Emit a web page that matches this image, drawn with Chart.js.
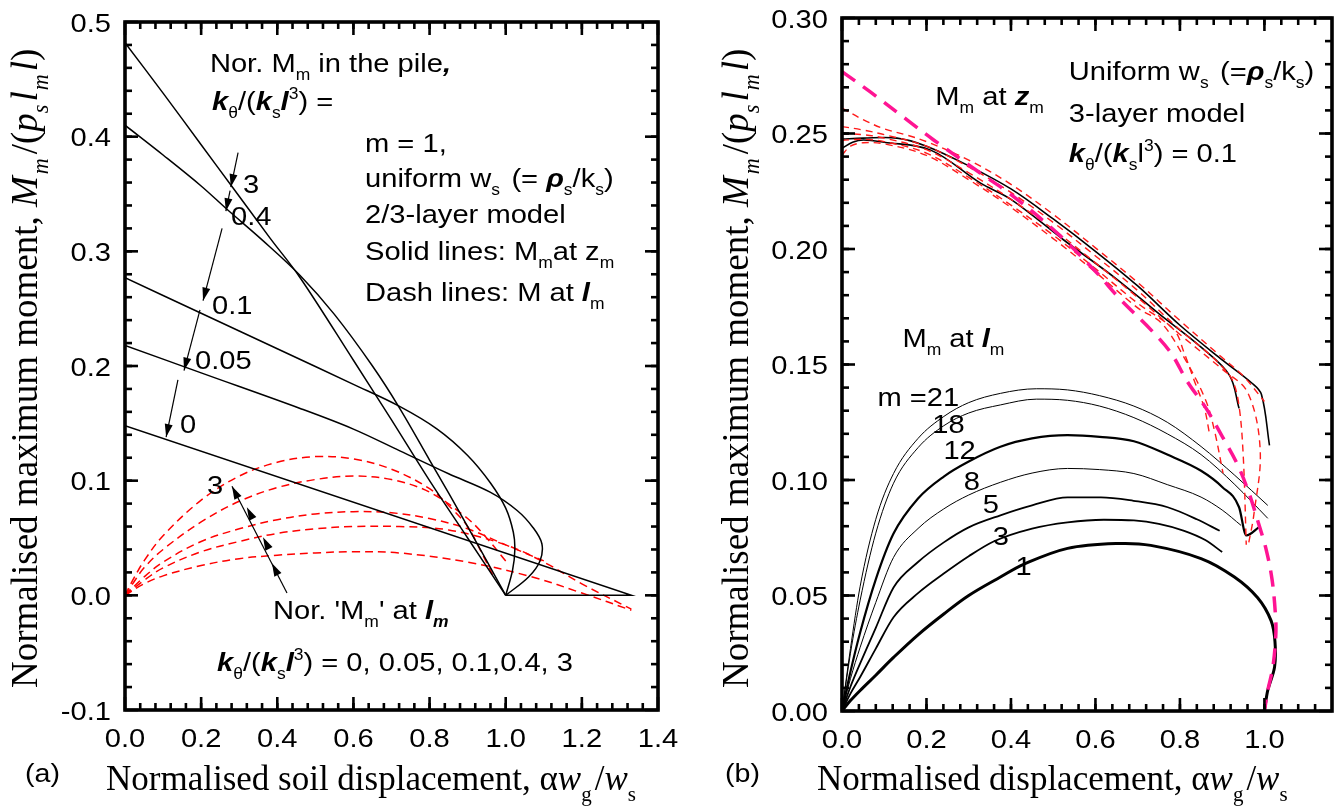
<!DOCTYPE html>
<html><head><meta charset="utf-8">
<script src="https://cdn.jsdelivr.net/npm/chart.js@4.4.1/dist/chart.umd.min.js"></script>
<style>
body{margin:0;background:#fff;width:1339px;height:812px;overflow:hidden;position:relative}
canvas{position:absolute;top:0}
</style></head><body>
<canvas id="ca" width="690" height="812" style="left:0"></canvas>
<canvas id="cb" width="649" height="812" style="left:690px"></canvas>
<script>
// ---------------- DATA : panel (a) ----------------
const aXTicks = [0, 0.2, 0.4, 0.6, 0.8, 1.0, 1.2, 1.4];
const aXLabels = ['0.0','0.2','0.4','0.6','0.8','1.0','1.2','1.4'];
const aYTicks = [-0.1, 0, 0.1, 0.2, 0.3, 0.4, 0.5];
const aYLabels = ['-0.1','0.0','0.1','0.2','0.3','0.4','0.5'];
// solid: M_m at z_m, k_theta/(k_s l^3) = 3, 0.4, 0.1, 0.05, 0
const aSolidK3   = [[0,0.482],[0.1,0.438],[0.2,0.393],[0.28,0.357],[0.38,0.312],[0.46,0.277],[0.6,0.205],[0.7,0.153],[0.8,0.1],[0.9,0.05],[1.0,0]];
const aSolidK04  = [[0,0.41],[0.1,0.384],[0.2,0.357],[0.27,0.336],[0.36,0.31],[0.46,0.279],[0.55,0.245],[0.65,0.2],[0.72,0.164],[0.8,0.118],[0.9,0.06],[1.0,0]];
const aSolidK01  = [[0,0.277],[0.2,0.246],[0.4,0.215],[0.6,0.184],[0.72,0.165],[0.82,0.145],[0.9,0.122],[0.96,0.098],[1.0,0.076],[1.02,0.055],[1.024,0.04],[1.018,0.022],[1.0,0]];
const aSolidK005 = [[0,0.218],[0.2,0.194],[0.46,0.163],[0.6,0.145],[0.722,0.126],[0.85,0.106],[0.959,0.09],[1.03,0.074],[1.072,0.059],[1.095,0.045],[1.09,0.03],[1.06,0.016],[1.0,0]];
const aSolidK0   = [[0,0.148],[1.33,0],[1.0,0]];
// dashed: M at l_m
const aDashK3   = [[0,0],[0.02,0.013],[0.05,0.03],[0.1,0.052],[0.2,0.083],[0.3,0.104],[0.4,0.116],[0.5,0.121],[0.6,0.119],[0.7,0.11],[0.8,0.093],[0.86,0.075],[0.9,0.06],[0.94,0.035],[0.97,0.015]];
const aDashK04  = [[0,0],[0.02,0.01],[0.05,0.024],[0.1,0.04],[0.2,0.064],[0.3,0.082],[0.4,0.094],[0.5,0.101],[0.6,0.104],[0.7,0.101],[0.8,0.09],[0.9,0.067],[0.95,0.05],[1.0,0.03]];
const aDashK01  = [[0,0],[0.05,0.016],[0.1,0.029],[0.2,0.047],[0.3,0.058],[0.4,0.066],[0.5,0.071],[0.6,0.073],[0.7,0.072],[0.8,0.067],[0.9,0.058],[1.0,0.044],[1.1,0.03]];
const aDashK005 = [[0,0],[0.05,0.013],[0.1,0.024],[0.2,0.038],[0.3,0.047],[0.4,0.054],[0.5,0.058],[0.6,0.06],[0.72,0.06],[0.85,0.057],[1.0,0.044],[1.1,0.029],[1.2,0.01],[1.33,-0.012]];
const aDashK0   = [[0,0],[0.05,0.01],[0.1,0.017],[0.2,0.026],[0.3,0.032],[0.4,0.035],[0.5,0.037],[0.6,0.038],[0.72,0.037],[0.9,0.029],[1.07,0.016],[1.2,0.002],[1.33,-0.013]];

// ---------------- DATA : panel (b) ----------------
const bXTicks = [0, 0.2, 0.4, 0.6, 0.8, 1.0];
const bXLabels = ['0.0','0.2','0.4','0.6','0.8','1.0'];
const bYTicks = [0, 0.05, 0.1, 0.15, 0.2, 0.25, 0.3];
const bYLabels = ['0.00','0.05','0.10','0.15','0.20','0.25','0.30'];
const bM1  = [[0,0],[0.02,0.0045],[0.043,0.0089],[0.08,0.0155],[0.122,0.0232],[0.18,0.033],[0.241,0.042],[0.3,0.05],[0.375,0.058],[0.43,0.0635],[0.534,0.0704],[0.652,0.0725],[0.731,0.0717],[0.85,0.066],[0.929,0.058],[0.984,0.049],[1.016,0.039],[1.025,0.03],[1.024,0.019],[1.008,0.009],[1.0,0]];
const bM3  = [[0,0],[0.02,0.0075],[0.043,0.0147],[0.08,0.027],[0.122,0.0406],[0.18,0.051],[0.241,0.0595],[0.3,0.067],[0.36,0.0735],[0.45,0.079],[0.534,0.0817],[0.62,0.0828],[0.691,0.0825],[0.75,0.081],[0.81,0.078],[0.86,0.074],[0.9,0.0688]];
const bM5  = [[0,0],[0.02,0.0105],[0.043,0.0206],[0.08,0.036],[0.122,0.0535],[0.18,0.0645],[0.241,0.073],[0.3,0.0795],[0.375,0.0847],[0.45,0.089],[0.534,0.0925],[0.613,0.0925],[0.69,0.091],[0.771,0.0882],[0.84,0.083],[0.894,0.078]];
const bM8  = [[0,0],[0.02,0.014],[0.043,0.0276],[0.08,0.047],[0.122,0.0665],[0.18,0.079],[0.241,0.0875],[0.3,0.0935],[0.375,0.099],[0.45,0.103],[0.534,0.105],[0.61,0.1045],[0.691,0.1028],[0.77,0.098],[0.85,0.0926],[0.9,0.087],[0.945,0.0803]];
const bM12 = [[0,0],[0.02,0.017],[0.043,0.034],[0.08,0.057],[0.122,0.0768],[0.18,0.092],[0.241,0.1015],[0.3,0.108],[0.375,0.1144],[0.45,0.118],[0.534,0.1194],[0.61,0.1187],[0.691,0.1168],[0.77,0.111],[0.85,0.104],[0.9,0.097],[0.94,0.0882],[0.957,0.076],[0.988,0.0797]];
const bM18 = [[0,0],[0.02,0.025],[0.043,0.048],[0.08,0.077],[0.122,0.0986],[0.18,0.114],[0.241,0.1235],[0.3,0.129],[0.375,0.1325],[0.46,0.135],[0.534,0.1345],[0.61,0.132],[0.691,0.127],[0.77,0.12],[0.85,0.111],[0.93,0.098],[1.008,0.0834]];
const bM21 = [[0,0],[0.02,0.027],[0.043,0.054],[0.08,0.083],[0.122,0.1028],[0.18,0.118],[0.241,0.1275],[0.3,0.1335],[0.375,0.1375],[0.46,0.1395],[0.534,0.139],[0.61,0.1365],[0.691,0.132],[0.77,0.125],[0.85,0.1145],[0.93,0.102],[1.008,0.089]];
// M_m at z_m (black solid) and dashed red companions
const bZm1 = [[0,0.2476],[0.05,0.248],[0.13,0.248],[0.2,0.2445],[0.3,0.236],[0.4,0.226],[0.5,0.213],[0.6,0.199],[0.7,0.184],[0.8,0.167],[0.9,0.152],[0.97,0.142],[0.993,0.137],[1.012,0.115]];
const bZm2 = [[0,0.2436],[0.025,0.2462],[0.051,0.2472],[0.1,0.2462],[0.21,0.2428],[0.328,0.2285],[0.4,0.2215],[0.525,0.2039],[0.65,0.187],[0.75,0.172],[0.85,0.1575],[0.917,0.1454],[0.94,0.131]];
const bRed1 = [[0,0.261],[0.05,0.256],[0.1,0.252],[0.15,0.2495],[0.2,0.2465],[0.3,0.2385],[0.4,0.228],[0.5,0.215],[0.6,0.2005],[0.7,0.1855],[0.8,0.169],[0.9,0.153],[0.95,0.145],[1.0,0.134]];
const bRed2 = [[0,0.253],[0.05,0.2515],[0.1,0.2495],[0.2,0.2445],[0.3,0.2355],[0.4,0.2245],[0.5,0.2115],[0.6,0.197],[0.7,0.182],[0.8,0.165],[0.86,0.156],[0.9,0.149],[0.925,0.143],[0.94,0.132],[0.95,0.11],[0.957,0.072]];
const bRed3 = [[0,0.25],[0.05,0.2495],[0.1,0.248],[0.2,0.243],[0.3,0.233],[0.4,0.2215],[0.5,0.2085],[0.6,0.194],[0.7,0.179],[0.8,0.163],[0.9,0.148],[0.96,0.138],[0.99,0.113],[0.975,0.085],[0.962,0.072]];
const bRed4 = [[0,0.247],[0.05,0.2475],[0.1,0.2465],[0.2,0.2415],[0.3,0.231],[0.4,0.219],[0.5,0.206],[0.6,0.1915],[0.7,0.1765],[0.786,0.165],[0.81,0.155],[0.834,0.143],[0.858,0.131],[0.87,0.12]];
const bRed5 = [[0,0.2407],[0.02,0.2445],[0.05,0.246],[0.1,0.2455],[0.2,0.2405],[0.3,0.23],[0.4,0.218],[0.5,0.2045],[0.6,0.19],[0.7,0.1745],[0.756,0.168],[0.81,0.153],[0.86,0.135],[0.881,0.122],[0.902,0.103]];
const bMagenta = [[0,0.2768],[0.067,0.268],[0.154,0.2559],[0.217,0.2472],[0.328,0.2328],[0.407,0.2226],[0.51,0.2068],[0.597,0.1909],[0.66,0.178],[0.732,0.1649],[0.779,0.1549],[0.818,0.1425],[0.862,0.131],[0.901,0.1186],[0.937,0.1064],[0.964,0.0941],[0.984,0.0825],[1.004,0.07],[1.018,0.057],[1.026,0.042],[1.027,0.033],[1.02,0.019],[1.008,0.0089],[1.0,0]];

// ---------------- helpers ----------------
const SANS = '"Liberation Sans", Arial, Helvetica, sans-serif';
const SERIF = '"Liberation Serif", "Times New Roman", Times, serif';
Chart.defaults.font.family = SANS;
Chart.defaults.color = '#000';

function rich(ctx, x, y, segs, size, fam, rot, sx) {
  ctx.save(); ctx.translate(x, y); if (rot) ctx.rotate(rot); if (sx) ctx.scale(sx, 1);
  ctx.fillStyle = '#000'; ctx.textBaseline = 'alphabetic'; ctx.textAlign = 'left';
  let cx = 0;
  for (const seg of segs) {
    const t = seg[0], f = seg[1] || '';
    const sub = f.includes('_'), sup = f.includes('^');
    const sz = (sub || sup) ? size * 0.6 : size;
    const ff = f.includes('S') ? SERIF : (f.includes('A') ? SANS : fam);
    ctx.font = (f.includes('i') ? 'italic ' : '') + (f.includes('b') ? 'bold ' : '') + sz + 'px ' + ff;
    const dy = sub ? size * 0.3 : (sup ? -size * 0.42 : 0);
    ctx.fillText(t, cx, dy);
    cx += ctx.measureText(t).width + (seg[2] || 0);
  }
  ctx.restore();
}
function pts(arr) { return arr.map(p => ({x: p[0], y: p[1]})); }
function minorList(lo, hi, step) { const r = []; for (let v = lo; v <= hi + 1e-9; v += step) r.push(+v.toFixed(4)); return r; }

const decoPlugin = {
  id: 'deco',
  afterDatasetsDraw(chart, args, o) {
    const {ctx, chartArea: a, scales: {x, y}} = chart;
    ctx.save();
    // arrows
    ctx.strokeStyle = '#000'; ctx.fillStyle = '#000'; ctx.lineWidth = 1.2;
    for (const ar of (o.arrows || [])) {
      const x0 = x.getPixelForValue(ar.from[0]), y0 = y.getPixelForValue(ar.from[1]);
      const x1 = x.getPixelForValue(ar.to[0]), y1 = y.getPixelForValue(ar.to[1]);
      ctx.beginPath(); ctx.moveTo(x0, y0); ctx.lineTo(x1, y1); ctx.stroke();
      const ang = Math.atan2(y1 - y0, x1 - x0);
      for (const tp of (ar.tips || [ar.to])) {
        const tx = x.getPixelForValue(tp[0]), ty = y.getPixelForValue(tp[1]);
        ctx.beginPath();
        ctx.moveTo(tx, ty);
        ctx.lineTo(tx - 13 * Math.cos(ang) + 4 * Math.sin(ang), ty - 13 * Math.sin(ang) - 4 * Math.cos(ang));
        ctx.lineTo(tx - 13 * Math.cos(ang) - 4 * Math.sin(ang), ty - 13 * Math.sin(ang) + 4 * Math.cos(ang));
        ctx.closePath(); ctx.fill();
      }
    }
    // texts in data space
    for (const t of (o.texts || [])) {
      rich(ctx, x.getPixelForValue(t.x), y.getPixelForValue(t.y), t.s, t.size || 26, SANS, 0, 1.12);
    }
    // ticks (inward, all four sides)
    ctx.strokeStyle = '#000'; ctx.lineWidth = 2.6;
    const seg = (x0, y0, x1, y1) => { ctx.beginPath(); ctx.moveTo(x0, y0); ctx.lineTo(x1, y1); ctx.stroke(); };
    const tk = o.ticks;
    for (const v of tk.xMinor) { const p = x.getPixelForValue(v); if (p < a.left + 2 || p > a.right - 2) continue; seg(p, a.bottom, p, a.bottom - 7); seg(p, a.top, p, a.top + 7); }
    for (const v of tk.xMajor) { const p = x.getPixelForValue(v); seg(p, a.bottom, p, a.bottom - 13); seg(p, a.top, p, a.top + 13); }
    for (const v of tk.yMinor) { const p = y.getPixelForValue(v); if (p < a.top + 2 || p > a.bottom - 2) continue; seg(a.left, p, a.left + 7, p); seg(a.right, p, a.right - 7, p); }
    for (const v of tk.yMajor) { const p = y.getPixelForValue(v); seg(a.left, p, a.left + 13, p); seg(a.right, p, a.right - 13, p); }
    ctx.lineWidth = 3.6;
    ctx.strokeRect(a.left, a.top, a.right - a.left, a.bottom - a.top);
    // tick labels (slightly wide sans, like the original)
    ctx.fillStyle = '#000'; ctx.font = '26px ' + SANS;
    tk.xMajor.forEach((v, i) => {
      ctx.save(); ctx.translate(x.getPixelForValue(v), a.bottom + 37); ctx.scale(1.12, 1);
      ctx.textAlign = 'center'; ctx.textBaseline = 'alphabetic'; ctx.fillText(tk.xLabels[i], 0, 0); ctx.restore();
    });
    tk.yMajor.forEach((v, i) => {
      ctx.save(); ctx.translate(a.left - 14, y.getPixelForValue(v) + 9.5); ctx.scale(1.12, 1);
      ctx.textAlign = 'right'; ctx.textBaseline = 'alphabetic'; ctx.fillText(tk.yLabels[i], 0, 0); ctx.restore();
    });
    // axis titles (canvas space)
    for (const t of (o.titles || [])) rich(ctx, t.x, t.y, t.s, t.size, t.fam, t.rot || 0, t.sx || 1);
    ctx.restore();
  }
};

function solid(data, w) { return {data: pts(data), borderColor: '#000', borderWidth: w || 1.5, showLine: true, pointRadius: 0, tension: 0.35, fill: false}; }
function smooth(data, w) { return Object.assign(solid(data, w), {cubicInterpolationMode: 'monotone'}); }
function dashed(data, color, w, dash) { return {data: pts(data), borderColor: color, borderWidth: w, borderDash: dash, showLine: true, pointRadius: 0, tension: 0.35, fill: false}; }

function axes(xmin, xmax, ymin, ymax, xt, yt, yw, xh) {
  return {
    x: {type: 'linear', min: xmin, max: xmax, grid: {display: false, drawTicks: false}, border: {display: false},
        afterBuildTicks: s => { s.ticks = xt.map(v => ({value: v})); },
        afterFit: s => { s.height = xh; },
        ticks: {display: false}},
    y: {type: 'linear', min: ymin, max: ymax, grid: {display: false, drawTicks: false}, border: {display: false},
        afterBuildTicks: s => { s.ticks = yt.map(v => ({value: v})); },
        afterFit: s => { s.width = yw; },
        ticks: {display: false}}
  };
}

// ---------------- chart (a) ----------------
const yTitleSegs = [['Normalised maximum moment, '], ['M', 'i', 2], ['m', 'i_', 4], ['/('], ['p', 'i'], ['s', 'i_', 3], ['l', 'i', 1], ['m', 'i_', 3], ['l', 'i'], [')']];
new Chart(document.getElementById('ca'), {
  type: 'scatter',
  data: {datasets: [
    solid(aSolidK3), solid(aSolidK04), solid(aSolidK01), solid(aSolidK005),
    Object.assign(solid(aSolidK0), {tension: 0}),
    dashed(aDashK3, '#ff0000', 1.5, [8, 5]), dashed(aDashK04, '#ff0000', 1.5, [8, 5]), dashed(aDashK01, '#ff0000', 1.5, [8, 5]),
    dashed(aDashK005, '#ff0000', 1.5, [8, 5]), dashed(aDashK0, '#ff0000', 1.5, [8, 5])
  ]},
  options: {
    responsive: false, animation: false, devicePixelRatio: 1,
    layout: {padding: {top: 22, right: 32, left: 0, bottom: 0}},
    plugins: {legend: {display: false}, tooltip: {enabled: false},
      deco: {
        ticks: {xMajor: aXTicks, xLabels: aXLabels, xMinor: minorList(0, 1.4, 0.04), yMajor: aYTicks, yLabels: aYLabels, yMinor: minorList(-0.1, 0.5, 0.02)},
        arrows: [
          {from: [0.297, 0.386], to: [0.278, 0.356]},
          {from: [0.276, 0.353], to: [0.265, 0.335]},
          {from: [0.255, 0.320], to: [0.205, 0.257]},
          {from: [0.197, 0.249], to: [0.155, 0.196]},
          {from: [0.139, 0.188], to: [0.108, 0.138]},
          {from: [0.4255, 0.002], to: [0.281, 0.0951], tips: [[0.281, 0.0951], [0.320, 0.0768], [0.3625, 0.0506], [0.386, 0.0279]]}
        ],
        texts: [
          {x: 0.223, y: 0.456, s: [['Nor. M'], ['m', '_'], [' in the pile'], [',', 'bi']]},
          {x: 0.2285, y: 0.4232, s: [['k', 'bi'], ['θ', '_'], ['/('], ['k', 'bi'], ['s', '_'], ['l', 'bi'], ['3', '^'], [') =']]},
          {x: 0.6304, y: 0.387, s: [['m = 1,']]},
          {x: 0.6304, y: 0.356, s: [['uniform w'], ['s', '_', 3], [' (= '], ['ρ', 'bi'], ['s', '_'], ['/k'], ['s', '_'], [')']]},
          {x: 0.6304, y: 0.3246, s: [['2/3-layer model']]},
          {x: 0.6304, y: 0.2923, s: [['Solid lines: M'], ['m', '_'], ['at z'], ['m', '_']]},
          {x: 0.6304, y: 0.2565, s: [['Dash lines: M at '], ['l', 'bi'], ['m', '_']]},
          {x: 0.31, y: 0.3508, s: [['3']]},
          {x: 0.2784, y: 0.3229, s: [['0.4']]},
          {x: 0.2285, y: 0.2452, s: [['0.1']]},
          {x: 0.1839, y: 0.1972, s: [['0.05']]},
          {x: 0.1445, y: 0.1414, s: [['0']]},
          {x: 0.2154, y: 0.0881, s: [['3']]},
          {x: 0.3888, y: -0.0209, s: [["Nor. 'M"], ['m', '_'], ["' at "], ['l', 'bi'], ['m', 'bi_']]},
          {x: 0.2417, y: -0.0663, s: [['k', 'bi'], ['θ', '_'], ['/('], ['k', 'bi'], ['s', '_'], ['l', 'bi'], ['3', '^'], [') = 0, 0.05, 0.1,0.4, 3']]}
        ],
        titles: [
          {x: 106, y: 790, size: 35, fam: SERIF, s: [['Normalised soil displacement, α'], ['w', 'i'], ['g', '_', 3], ['/'], ['w', 'i'], ['s', '_']]},
          {x: 25, y: 782, size: 26, fam: SANS, sx: 1.1, s: [['(a)']]},
          {x: 37, y: 688, size: 37, fam: SERIF, rot: -Math.PI / 2, s: yTitleSegs}
        ]
      }},
    scales: axes(0, 1.4, -0.1, 0.5, aXTicks, aYTicks, 125, 102)
  },
  plugins: [decoPlugin]
});

// ---------------- chart (b) ----------------
const RED = '#ff1a1a', PINK = '#ff1493';
new Chart(document.getElementById('cb'), {
  type: 'scatter',
  data: {datasets: [
    dashed(bMagenta, PINK, 3.5, [16, 10]),
    dashed(bRed1, RED, 1.4, [7, 5]), dashed(bRed2, RED, 1.4, [7, 5]), dashed(bRed3, RED, 1.4, [7, 5]),
    dashed(bRed4, RED, 1.4, [7, 5]), dashed(bRed5, RED, 1.4, [7, 5]),
    solid(bZm1, 1.6), solid(bZm2, 1.6),
    solid(bM1, 3), smooth(bM3, 1.8), smooth(bM5, 1.8), smooth(bM8, 1), smooth(bM12, 2.2), smooth(bM18, 1), smooth(bM21, 1)
  ]},
  options: {
    responsive: false, animation: false, devicePixelRatio: 1,
    layout: {padding: {top: 18, right: 7, left: 0, bottom: 0}},
    plugins: {legend: {display: false}, tooltip: {enabled: false},
      deco: {
        ticks: {xMajor: bXTicks, xLabels: bXLabels, xMinor: minorList(0, 1.16, 0.04), yMajor: bYTicks, yLabels: bYLabels, yMinor: minorList(0, 0.3, 0.01)},
        texts: [
          {x: 0.221, y: 0.2623, s: [['M'], ['m', '_'], [' at '], ['z', 'bi'], ['m', '_']]},
          {x: 0.537, y: 0.273, s: [['Uniform w'], ['s', '_', 3], [' (='], ['ρ', 'bi'], ['s', '_'], ['/k'], ['s', '_'], [')']]},
          {x: 0.537, y: 0.255, s: [['3-layer model']]},
          {x: 0.537, y: 0.2375, s: [['k', 'bi'], ['θ', '_'], ['/('], ['k', 'bi'], ['s', '_'], ['l'], ['3', '^'], [') = 0.1']]},
          {x: 0.143, y: 0.1575, s: [['M'], ['m', '_'], [' at '], ['l', 'bi'], ['m', '_']]},
          {x: 0.0838, y: 0.132, s: [['m =21']]},
          {x: 0.2135, y: 0.1202, s: [['18']]},
          {x: 0.240, y: 0.109, s: [['12']]},
          {x: 0.288, y: 0.0955, s: [['8']]},
          {x: 0.333, y: 0.0855, s: [['5']]},
          {x: 0.357, y: 0.0717, s: [['3']]},
          {x: 0.411, y: 0.0587, s: [['1']]}
        ],
        titles: [
          {x: 127, y: 790, size: 35, fam: SERIF, s: [['Normalised displacement, α'], ['w', 'i'], ['g', '_', 3], ['/'], ['w', 'i'], ['s', '_']]},
          {x: 35, y: 782, size: 26, fam: SANS, sx: 1.1, s: [['(b)']]},
          {x: 58, y: 688, size: 37, fam: SERIF, rot: -Math.PI / 2, s: yTitleSegs}
        ]
      }},
    scales: axes(0, 1.16, 0, 0.3, bXTicks, bYTicks, 152, 101)
  },
  plugins: [decoPlugin]
});
</script>
</body></html>
